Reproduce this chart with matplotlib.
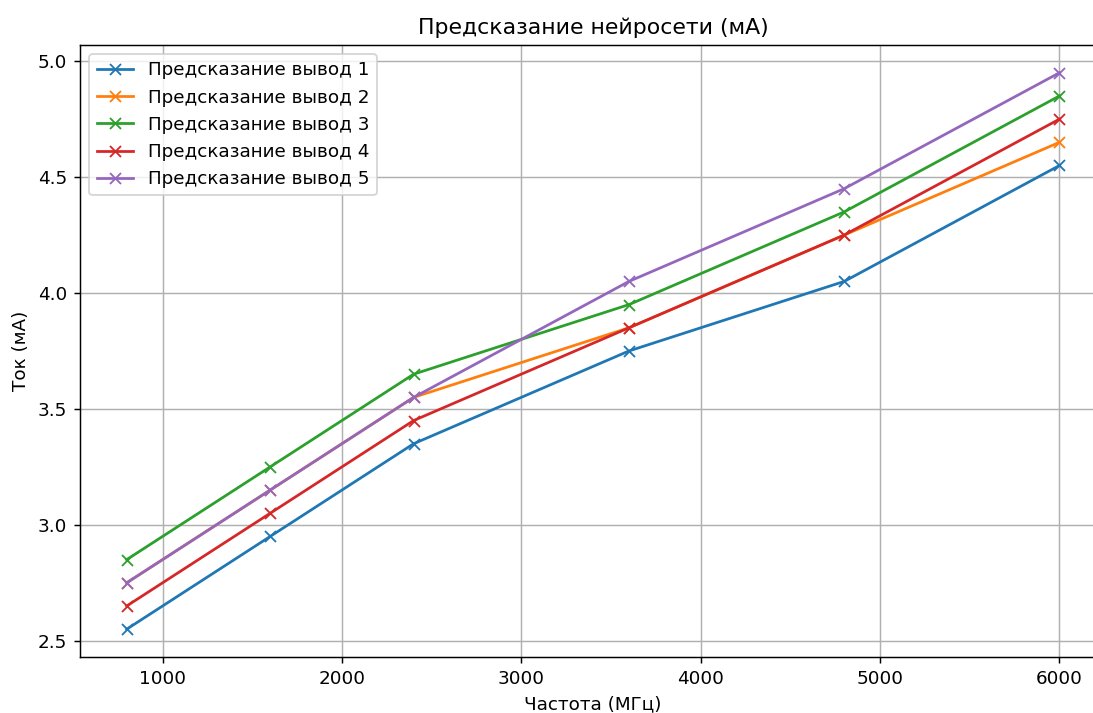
import matplotlib.pyplot as plt

# Frequency points (MHz)
freq = [800, 1600, 2400, 3600, 4800, 6000]

# Predicted current for each output (mA)
out1 = [2.55, 2.95, 3.35, 3.75, 4.05, 4.55]
out2 = [2.75, 3.15, 3.55, 3.85, 4.25, 4.65]
out3 = [2.85, 3.25, 3.65, 3.95, 4.35, 4.85]
out4 = [2.65, 3.05, 3.45, 3.85, 4.25, 4.75]
out5 = [2.75, 3.15, 3.55, 4.05, 4.45, 4.95]

series = [out1, out2, out3, out4, out5]
labels = [f'Предсказание вывод {i}' for i in range(1, 6)]

dpi = 132
fig, ax = plt.subplots(figsize=(1093 / dpi, 713 / dpi), dpi=dpi)
for vals, lab in zip(series, labels):
    ax.plot(freq, vals, marker='x', label=lab)

ax.set_title('Предсказание нейросети (мА)')
ax.set_xlabel('Частота (МГц)')
ax.set_ylabel('Ток (мА)')
ax.grid(True)
ax.legend(loc='upper left')

# the original picture is cropped on the right, spine falls just outside
fig.subplots_adjust(left=0.0732, right=1.012, top=0.937, bottom=0.0785)
fig.savefig('out.png', dpi=dpi)
